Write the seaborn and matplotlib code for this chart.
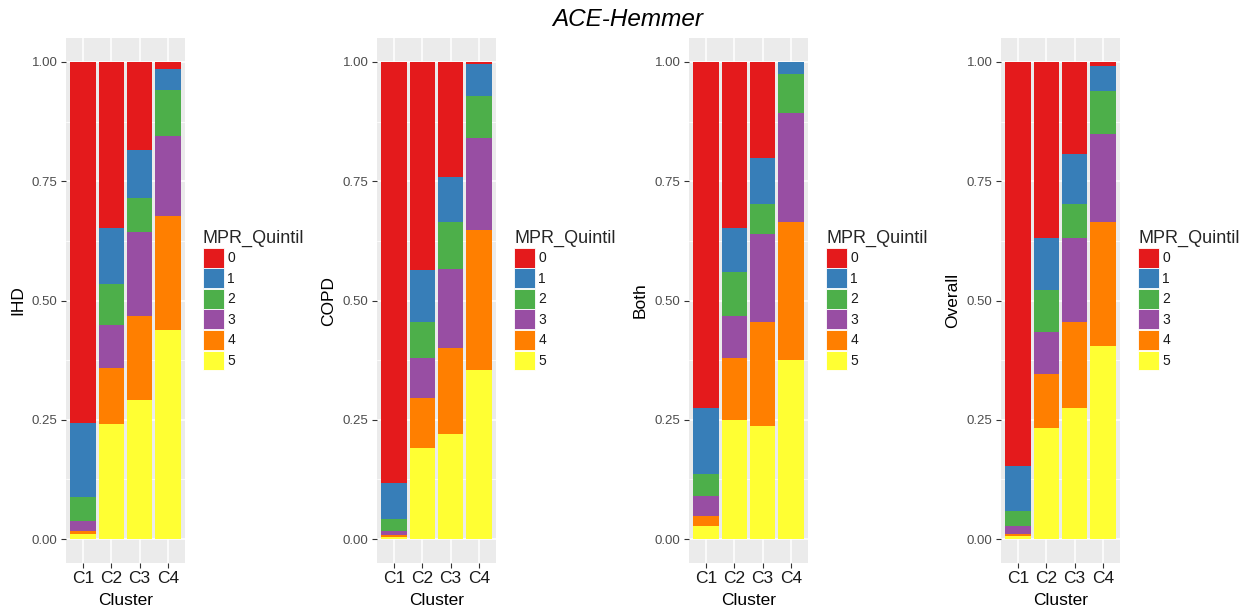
import numpy as np
import pandas as pd
import seaborn as sns
import matplotlib
matplotlib.use("Agg")
import matplotlib.pyplot as plt
from matplotlib.patches import Patch

# ---------------- data ----------------
clusters = ["C1", "C2", "C3", "C4"]
quintiles = ["0", "1", "2", "3", "4", "5"]
panel_names = ["IHD", "COPD", "Both", "Overall"]
palette = ["#E41A1C", "#377EB8", "#4DAF4A", "#984EA3", "#FF7F00", "#FFFF33"]

# shares per quintile (rows 0..5), columns C1..C4
ihd_share = [
    [0.756, 0.349, 0.184, 0.014],
    [0.155, 0.116, 0.102, 0.045],
    [0.051, 0.087, 0.071, 0.096],
    [0.020, 0.090, 0.175, 0.168],
    [0.008, 0.117, 0.176, 0.238],
    [0.010, 0.241, 0.292, 0.439],
]
copd_share = [
    [0.882, 0.436, 0.242, 0.004],
    [0.075, 0.109, 0.093, 0.068],
    [0.025, 0.075, 0.099, 0.087],
    [0.010, 0.084, 0.166, 0.193],
    [0.004, 0.105, 0.180, 0.293],
    [0.004, 0.191, 0.220, 0.355],
]
both_share = [
    [0.725, 0.349, 0.201, 0.000],
    [0.138, 0.092, 0.097, 0.026],
    [0.047, 0.091, 0.062, 0.081],
    [0.042, 0.088, 0.185, 0.228],
    [0.020, 0.131, 0.218, 0.289],
    [0.028, 0.249, 0.237, 0.376],
]
overall_share = [
    [0.847, 0.369, 0.194, 0.008],
    [0.094, 0.109, 0.104, 0.054],
    [0.031, 0.088, 0.071, 0.090],
    [0.017, 0.089, 0.176, 0.183],
    [0.005, 0.113, 0.180, 0.261],
    [0.006, 0.232, 0.275, 0.404],
]
panel_shares = [ihd_share, copd_share, both_share, overall_share]

ytick_vals = [0.0, 0.25, 0.5, 0.75, 1.0]
ytick_labels = ["0.00", "0.25", "0.50", "0.75", "1.00"]

# ---------------- style ----------------
sns.set_style("white")
plt.rcParams["font.family"] = ["Liberation Sans", "DejaVu Sans"]

W, H = 1249, 612
fig = plt.figure(figsize=(W / 100, H / 100), dpi=100)

panel_left = [66, 377, 689, 1001]
panel_w = 119
panel_top, panel_bot = 38, 563

for name, shares, x0 in zip(panel_names, panel_shares, panel_left):
    ax = fig.add_axes([x0 / W, (H - panel_bot) / H, panel_w / W, (panel_bot - panel_top) / H])
    ax.set_facecolor("#EBEBEB")
    arr = np.array(shares)
    # stack order from bottom: quintile 5 ... quintile 0 (top)
    rows = []
    for qi, q in enumerate(quintiles):
        cum_top = arr[qi:, :].sum(axis=0)  # top of segment for quintile qi
        for ci, c in enumerate(clusters):
            rows.append({"Cluster": c, "MPR_Quintil": q, "top": cum_top[ci]})
    df = pd.DataFrame(rows)
    for qi, q in enumerate(quintiles):
        sub = df[df["MPR_Quintil"] == q]
        sns.barplot(data=sub, x="Cluster", y="top", order=clusters, color=palette[qi],
                    saturation=1, width=0.9, linewidth=0, errorbar=None, ax=ax, zorder=3)

    ax.set_xlim(-0.6, 3.6)
    ax.set_ylim(-0.05, 1.05)
    ax.set_yticks(ytick_vals)
    ax.set_yticklabels(ytick_labels)
    ax.set_yticks([0.125, 0.375, 0.625, 0.875], minor=True)
    ax.set_axisbelow(True)
    ax.grid(which="major", axis="both", color="white", linewidth=1.1, zorder=0)
    ax.grid(which="minor", axis="y", color="white", linewidth=0.55, zorder=0)
    ax.xaxis.grid(True, which="major", color="white", linewidth=1.1)
    for s in ax.spines.values():
        s.set_visible(False)
    ax.tick_params(axis="y", which="major", length=3.5, width=0.8, color="#333333",
                   labelsize=9.5, labelcolor="#4D4D4D", pad=2.5, left=True)
    ax.tick_params(axis="y", which="minor", length=0, left=False)
    ax.tick_params(axis="x", which="major", length=3.5, width=0.8, color="#333333",
                   labelsize=12.5, labelcolor="#1A1A1A", pad=2.5, bottom=True)
    ax.set_xlabel("Cluster", fontsize=12.5, color="#000000", labelpad=5)
    ax.set_ylabel(name, fontsize=12.5, color="#000000")
    ax.yaxis.set_label_coords(-41 / panel_w, 0.5)

    handles = [Patch(facecolor=palette[i], edgecolor="white", linewidth=0.6) for i in range(6)]
    leg = ax.legend(handles, quintiles, title="MPR_Quintil", loc="upper left",
                    bbox_to_anchor=((x0 + 137) / W, (H - 230) / H), bbox_transform=fig.transFigure,
                    frameon=False, borderpad=0, borderaxespad=0, handlelength=1.5,
                    handleheight=1.82, labelspacing=0.05, handletextpad=0.25,
                    fontsize=10, title_fontsize=13, alignment="left")
    for t in leg.get_texts():
        t.set_color("#1A1A1A")

fig.text(628 / W, 1 - 19 / H, "ACE-Hemmer", ha="center", va="center",
         fontsize=17.5, style="italic", color="#000000")

fig.savefig("out.png", dpi=100)
